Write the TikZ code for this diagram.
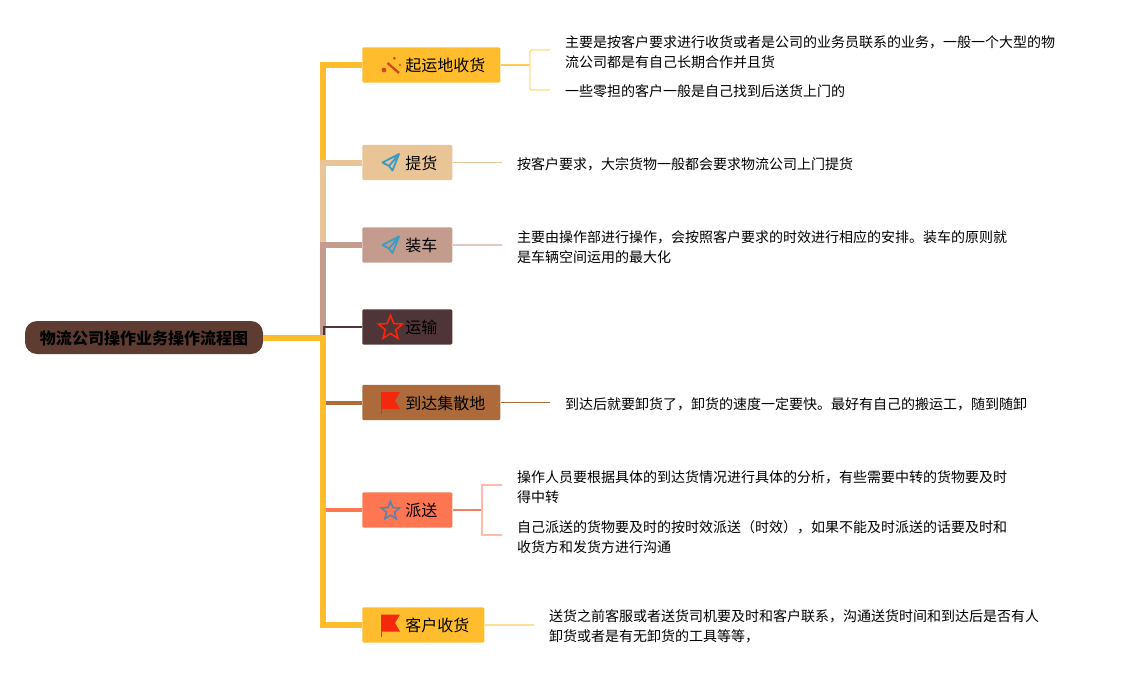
\documentclass[tikz,border=0pt]{standalone}
\usepackage{fontspec}
\setmainfont{Noto Sans CJK SC}
\usetikzlibrary{shapes.geometric}
\definecolor{goldbar}{HTML}{FFBD2E}
\definecolor{tanbar}{HTML}{E8C497}
\definecolor{rosebar}{HTML}{C49C8E}
\definecolor{darkbar}{HTML}{4F3538}
\definecolor{brownbar}{HTML}{AD6B3B}
\definecolor{coralbar}{HTML}{FF7652}
\definecolor{rootfill}{HTML}{5E3C31}
\definecolor{flagred}{HTML}{F3280C}
\definecolor{planeblue}{HTML}{3E9BC4}
\definecolor{starblue}{HTML}{5B84A8}
\definecolor{wandred}{HTML}{D4461C}
\tikzset{
	rootbox/.style={rounded corners=9pt,fill=rootfill,minimum height=24.75pt,minimum width=178.5pt,inner sep=0pt,font=\bfseries\fontsize{12}{15}\selectfont,text=black,text height=11.8pt,text depth=1.88pt},
	branchbox/.style={anchor=west,rounded corners=1pt,fill=#1,minimum height=26.5pt,inner ysep=0pt,inner xsep=11.25pt,font=\fontsize{12}{15}\selectfont,text=black,text height=11.8pt,text depth=1.88pt,execute at begin node=\hspace*{21pt}},
	detail/.style={anchor=west,inner sep=0pt,align=left,yshift=-.5pt,xshift=-.1pt,font=\fontsize{10.5}{15}\selectfont,text=black},
	trunk/.style={line width=4.5pt,draw=#1},
	limb/.style={line width=3pt,draw=#1},
	twig/.style={line width=1pt,draw=#1},
	iconstar/.style={star,star points=5,star point ratio=2.3,draw=#1,line width=1.2pt,inner sep=0pt},
	flagicon/.pic={
		\fill[flagred] (-9,-10.5) -- (10,-10.5) -- (5,-2) -- (10,6.5) -- (-9,6.5) -- cycle;
		\draw[flagred,line width=.8pt] (-8.8,-10.5) -- (-8.8,11.5);
	},
	planeicon/.pic={
		\draw[planeblue,line width=1.4pt,line join=round] (8.5,-8.5) -- (-8,0) -- (-1.5,3.5) -- (2,8) -- cycle (-1.5,3.5) -- (8.5,-8.5);
	},
	wandicon/.pic={
		\draw[wandred,line width=1.7pt] (-3.5,-2) -- (8,8);
		\fill[wandred] (3.3,-6.7) circle (1.5) (9,0) circle (1.1) (-7,5) circle (2.4);
	},
}
\begin{document}
\begin{tikzpicture}[x=0.75pt,y=-0.75pt]
	\useasboundingbox (0,0) rectangle (1125,675);
	% central topic and branches
	\node[rootbox] (root) at (144,337.5) {物流公司操作业务操作流程图};
	\node[branchbox=goldbar] (qiyun) at (362,65) {起运地收货};
	\node[branchbox=tanbar] (tihuo) at (362,162.5) {提货};
	\node[branchbox=rosebar] (zhuangche) at (362,245) {装车};
	\node[branchbox=darkbar] (yunshu) at (362,327) {运输};
	\node[branchbox=brownbar] (daoda) at (362,402.5) {到达集散地};
	\node[branchbox=coralbar] (paisong) at (362,510) {派送};
	\node[branchbox=goldbar] (kehu) at (362,625) {客户收货};
	% details
	\node[detail] (qiyunA) at (565,51) {主要是按客户要求进行收货或者是公司的业务员联系的业务，一般一个大型的物\\流公司都是有自己长期合作并且货};
	\node[detail] (qiyunB) at (565,91) {一些零担的客户一般是自己找到后送货上门的};
	\node[detail] (tihuoA) at (517,164) {按客户要求，大宗货物一般都会要求物流公司上门提货};
	\node[detail] (zhuangcheA) at (517,246.5) {主要由操作部进行操作，会按照客户要求的时效进行相应的安排。装车的原则就\\是车辆空间运用的最大化};
	\node[detail] (daodaA) at (565,404) {到达后就要卸货了，卸货的速度一定要快。最好有自己的搬运工，随到随卸};
	\node[detail] (paisongA) at (517,486) {操作人员要根据具体的到达货情况进行具体的分析，有些需要中转的货物要及时\\得中转};
	\node[detail] (paisongB) at (517,536) {自己派送的货物要及时的按时效派送（时效），如果不能及时派送的话要及时和\\收货方和发货方进行沟通};
	\node[detail] (kehuA) at (549,626) {送货之前客服或者送货司机要及时和客户联系，沟通送货时间和到达后是否有人\\卸货或者是有无卸货的工具等等，};
	% joints on the trunk
	\coordinate (jointTi) at (322.5,162.5);
	\coordinate (jointZhuang) at (322.5,245);
	\coordinate (jointYun) at (323.5,335);
	\coordinate (junction) at (322.5,337.5);
	\coordinate (forkQi) at (530,65);
	\coordinate (forkPai) at (482,510);
	\coordinate (endQiA) at (550,50);
	\coordinate (endQiB) at (550,90);
	\coordinate (endTi) at (502,162.5);
	\coordinate (endZhuang) at (502,245);
	\coordinate (endDao) at (550,402.5);
	\coordinate (endPaiA) at (502,485);
	\coordinate (endPaiB) at (502,535);
	\coordinate (endKe) at (534,625);
	% trunk
	\draw[trunk=goldbar] (qiyun.west) -| (jointTi);
	\draw[trunk=tanbar] (tihuo.west) -| (jointZhuang);
	\draw[trunk=rosebar] (zhuangche.west) -| (junction);
	\draw[line width=1.5pt,draw=darkbar] (yunshu.west) -| (jointYun);
	\draw[limb=brownbar] (daoda.west) -- (daoda.west -| junction);
	\draw[limb=coralbar] (paisong.west) -- (paisong.west -| junction);
	\draw[trunk=goldbar] (kehu.west) -| (junction);
	\draw[trunk=goldbar] (root.east) -- ([xshift=2.25pt]junction);
	% connectors to the details
	\draw[line width=1.2pt,draw=goldbar!80] (qiyun.east) -- (forkQi);
	\draw[twig=goldbar!55,rounded corners=1pt] (endQiA) -| (forkQi) |- (endQiB);
	\draw[twig=tanbar,line width=.8pt] (tihuo.east) -- (endTi);
	\draw[twig=rosebar!55,line width=1.3pt] (zhuangche.east) -- (endZhuang);
	\draw[twig=brownbar,line width=.8pt] (daoda.east) -- (endDao);
	\draw[line width=1.5pt,draw=coralbar!70!rosebar] (paisong.east) -- (forkPai);
	\draw[twig=coralbar!50] (endPaiA) -| (forkPai) |- (endPaiB);
	\draw[twig=goldbar!50,line width=1.3pt] (kehu.east) -- (endKe);
	% icons
	\pic at (391,65) {wandicon};
	\pic at (390.5,162.5) {planeicon};
	\pic at (390.5,245) {planeicon};
	\node[iconstar=flagred,minimum size=19pt] (starYun) at (390.5,328) {};
	\pic at (390,402.5) {flagicon};
	\node[iconstar=starblue,minimum size=14.5pt] (starPai) at (390.5,511) {};
	\pic at (390,625) {flagicon};
\end{tikzpicture}
\end{document}
